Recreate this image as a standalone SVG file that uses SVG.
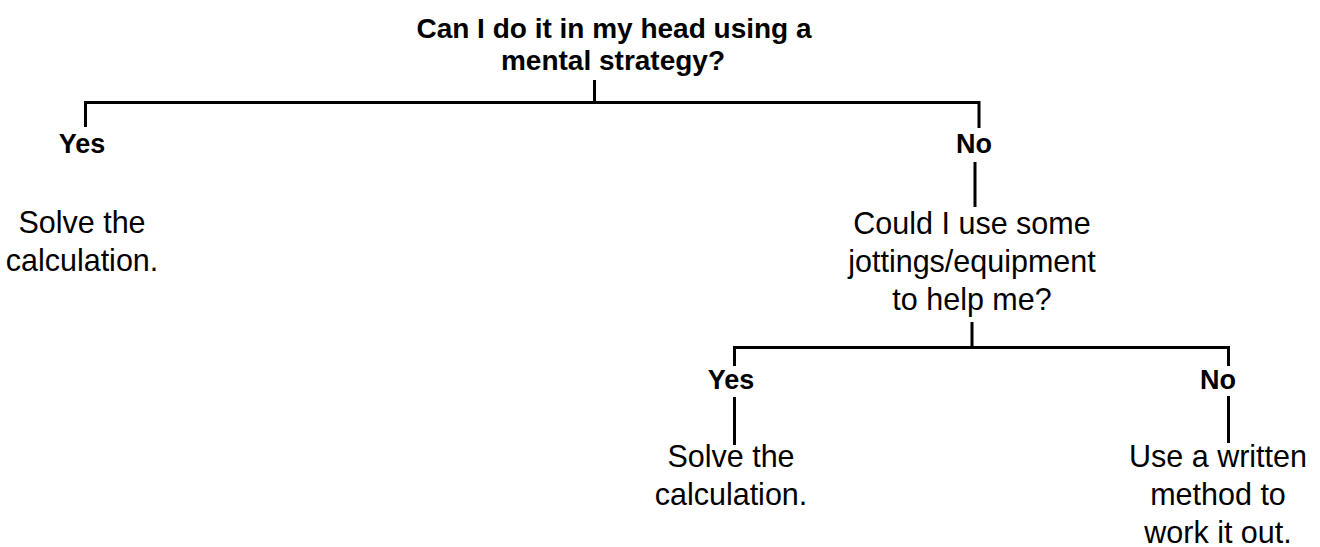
<svg xmlns="http://www.w3.org/2000/svg" width="1320" height="547" viewBox="0 0 1320 547">
<style>
text{font-family:"Liberation Sans",Arial,sans-serif;fill:#000;text-anchor:middle}
.q{font-size:28px;font-weight:bold}
.a{font-size:27px;font-weight:bold}
.t{font-size:30.5px}
.c{stroke:#000;stroke-width:3;fill:none;stroke-linecap:butt}
</style>
<rect width="1320" height="547" fill="#fff"/>
<g id="connectors" class="c">
<path d="M594.5 80V102.5M84 102.5H980M85.5 101V127M979 101V128"/>
<path d="M975 162V207"/>
<path d="M972 322V347.5M733 347.5H1229.5M734.5 346V366M1228.5 346V366"/>
<path d="M734.5 397V445M1228.5 396V443"/>
</g>
<g id="n-root"><text class="q" x="614" y="38">Can I do it in my head using a</text><text class="q" x="613" y="70">mental strategy?</text></g>
<g id="n-yes1"><text class="a" x="82" y="153">Yes</text></g>
<g id="n-solve1"><text class="t" x="82" y="233">Solve the</text><text class="t" x="82" y="271">calculation.</text></g>
<g id="n-no1"><text class="a" x="974" y="153">No</text></g>
<g id="n-q2"><text class="t" x="972" y="234">Could I use some</text><text class="t" x="972" y="272">jottings/equipment</text><text class="t" x="972" y="310">to help me?</text></g>
<g id="n-yes2"><text class="a" x="731" y="389">Yes</text></g>
<g id="n-no2"><text class="a" x="1218" y="389">No</text></g>
<g id="n-solve2"><text class="t" x="731" y="467">Solve the</text><text class="t" x="731" y="505">calculation.</text></g>
<g id="n-written"><text class="t" x="1218" y="467">Use a written</text><text class="t" x="1218" y="505">method to</text><text class="t" x="1218" y="543">work it out.</text></g>
</svg>
